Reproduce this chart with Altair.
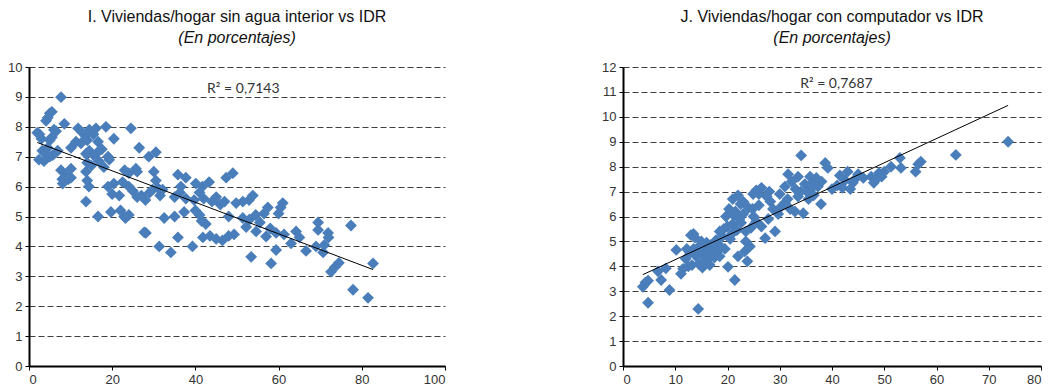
import altair as alt
import pandas as pd

# Panel I: share of dwellings/households without indoor water vs IDR
idr_agua = [
    2.0, 2.5, 3.0, 2.4, 3.6, 3.2, 4.0, 4.5, 5.0, 5.7, 6.9, 4.1, 4.5, 5.0, 5.5,
    5.0, 5.5, 6.0, 6.5, 7.7, 8.5, 7.7, 8.9, 8.1, 10.1, 10.1, 9.5, 10.1, 8.0,
    11.8, 12.9, 13.5, 14.5, 15.5, 16.1, 18.5, 11.3, 12.5, 14.0, 16.6, 13.7, 14.5,
    15.5, 16.5, 17.5, 20.4, 19.0, 14.0, 15.0, 16.8, 18.0, 19.3, 13.7, 14.0, 14.4,
    13.7, 16.6, 19.0, 20.0, 20.4, 21.7, 22.5, 19.7,
    24.5, 26.5, 28.8, 30.5, 23.0, 24.0, 25.7, 26.0, 24.0, 25.0, 26.0, 27.0, 28.0,
    29.0, 29.7, 30.5, 31.0, 32.1, 30.0, 31.5, 22.9, 23.2, 24.0, 22.0, 28.1, 27.7,
    31.3, 32.5, 34.1,
    35.0, 37.3, 35.8, 39.3, 35.8, 37.7, 36.3, 37.7, 35.0, 36.5, 40.1, 41.7, 43.3,
    39.7, 41.0, 42.0, 40.0, 41.0, 41.5, 42.5, 41.8, 43.5, 45.0, 44.0, 45.0, 46.0,
    47.0,
    47.4, 49.0, 48.0, 46.5, 48.0, 49.3, 49.8, 51.4, 52.9, 53.8, 51.4, 53.0, 54.5,
    56.5, 57.4, 60.0, 60.5, 61.0, 52.2, 54.6, 55.5, 57.0, 58.0, 59.4, 53.4, 58.2,
    59.4, 61.3, 63.0,
    64.2, 65.0, 66.6, 69.5, 69.5, 69.0, 70.7, 71.9, 72.0, 71.0, 72.6, 73.5, 74.5,
    77.4, 77.9, 81.5, 82.7,
]
agua = [
    7.8, 7.75, 7.6, 6.9, 6.85, 7.2, 7.1, 7.3, 7.0, 7.05, 7.2, 8.2, 8.3, 8.45, 8.5,
    7.55, 7.65, 7.9, 7.85, 8.99, 8.1, 6.55, 6.4, 6.1, 6.6, 6.3, 6.25, 7.3, 6.25,
    7.95, 7.8, 7.7, 7.9, 7.75, 7.95, 8.0, 7.5, 7.45, 7.55, 7.5, 7.1, 7.2,
    7.05, 7.15, 7.25, 7.6, 7.0, 6.8, 6.7, 6.85, 6.65, 6.9, 6.5, 6.2, 6.0,
    5.5, 5.0, 6.0, 5.75, 6.1, 5.7, 6.15, 5.15,
    7.95, 7.3, 7.0, 7.15, 6.55, 6.45, 6.6, 6.5, 6.0, 5.85, 5.65, 5.7, 5.55,
    5.8, 5.9, 6.2, 5.95, 5.9, 6.5, 5.7, 5.0, 4.95, 5.05, 5.2, 4.45, 4.47,
    4.0, 4.95, 3.8,
    5.0, 5.15, 4.3, 4.0, 6.4, 6.3, 5.8, 5.6, 5.65, 6.0, 6.1, 6.0, 6.15,
    5.55, 5.8, 5.6, 5.2, 5.05, 4.85, 4.75, 4.3, 4.35, 4.25, 5.5, 5.65, 5.4,
    5.5,
    6.3, 6.45, 5.0, 4.2, 4.35, 4.4, 5.45, 5.5, 5.55, 5.7, 4.95, 4.9, 5.05,
    5.1, 5.3, 5.1, 5.3, 5.45, 4.65, 4.5, 4.8, 4.33, 4.6, 4.45, 3.65, 3.43,
    3.88, 4.4, 4.1,
    4.5, 4.3, 3.85, 4.8, 4.55, 4.0, 3.8, 4.45, 4.3, 4.05, 3.15, 3.3, 3.45,
    4.7, 2.55, 2.28, 3.43,
]

# Panel J: share of dwellings/households with a computer vs IDR
idr_comp = [
    3.8, 4.3, 4.8, 4.8, 6.7, 7.3, 8.2, 8.9, 10.2, 11.1, 11.5, 12.0, 12.5, 12.8,
    13.0, 13.5, 13.8, 13.5, 14.0, 14.4, 14.5, 14.8, 15.0, 15.2, 15.5, 15.8, 16.0,
    16.3, 16.6, 17.0, 17.3, 17.5, 18.0, 18.2, 18.5, 18.8, 19.0, 19.3, 19.7, 20.1,
    20.0, 20.3, 20.5, 21.0, 21.0, 21.4, 21.5, 21.8, 22.0, 22.0, 22.3, 22.6, 23.0,
    23.0, 23.3, 23.5, 23.8, 24.0, 24.3, 24.5, 24.9, 25.0, 25.5, 25.5, 26.0, 26.5,
    26.5, 27.2, 27.5, 27.8, 28.0, 28.7, 29.1, 29.7, 30.3, 31.0, 31.0, 31.6, 32.0,
    32.3, 32.9, 33.0, 33.5, 33.5, 34.1, 34.5, 34.8, 35.2, 35.5, 35.8, 36.3, 36.5,
    37.0, 37.3, 37.9, 38.0, 38.7, 39.2, 40.0, 41.0, 41.5, 42.0, 42.5, 43.0, 43.5,
    44.0, 44.4, 45.0, 46.0, 47.5, 48.0, 48.5, 49.0, 49.5, 50.0, 51.3, 53.0, 53.2,
    56.0, 56.5, 57.0, 63.7, 73.7,
    12.2, 13.2, 14.2, 15.0, 15.6, 16.8, 17.8, 18.5, 19.5, 20.8, 21.2, 22.5, 23.5,
    24.8, 26.0, 28.2, 30.0, 31.5, 34.0, 36.0,
]
comp = [
    3.18, 3.35, 3.42, 2.54, 3.8, 3.45, 3.92, 3.05, 4.66, 3.7, 3.9, 4.3, 4.0, 4.55,
    5.25, 5.3, 5.15, 4.7, 4.4, 2.29, 4.1, 4.85, 4.5, 3.95, 4.2, 4.65, 4.95,
    4.3, 4.05, 4.55, 4.8, 4.35, 4.6, 4.9, 5.4, 4.75, 5.2, 5.5, 6.0, 3.98,
    5.6, 6.3, 5.1, 6.7, 5.7, 3.45, 6.2, 5.45, 6.85, 4.4, 5.9, 5.75, 6.6,
    6.1, 4.6, 5.0, 4.2, 6.35, 4.8, 5.55, 6.9, 6.0, 7.05, 5.8, 6.45, 7.15,
    5.6, 5.13, 6.8, 5.9, 7.0, 6.3, 5.4, 6.1, 6.4, 6.55, 7.2, 7.7, 6.3,
    7.4, 6.2, 7.1, 7.6, 6.8, 8.45, 6.13, 7.3, 7.0, 6.7, 7.6, 7.35, 6.85,
    7.55, 7.2, 6.5, 7.4, 8.15, 7.95, 7.1, 7.25, 7.65, 7.15, 7.45, 7.8, 7.1,
    7.35, 7.5, 7.7, 7.55, 7.6, 7.35, 7.5, 7.75, 7.6, 7.8, 8.0, 8.35, 7.95,
    7.8, 8.1, 8.2, 8.47, 9.0,
    4.7, 4.05, 4.6, 5.0, 4.4, 4.85, 5.05, 4.4, 4.7, 5.3, 6.05, 6.5, 5.4,
    6.3, 6.9, 6.6, 6.9, 6.7, 7.0, 7.1,
]

r2_labels = ["R² = 0,7143", "R² = 0,7687"]

BLUE = "#4A7EBB"
TITLE_FONT = "Liberation Sans Narrow, Arial Narrow, Liberation Sans"
AXIS_FONT = "Liberation Sans"


def panel(xs, ys, x_max, x_step, y_max, width, title, r2_text, r2_x, r2_y):
    df = pd.DataFrame({"idr": xs, "val": ys})
    x_enc = alt.X(
        "idr:Q",
        scale=alt.Scale(domain=[0, x_max], nice=False, zero=True),
        axis=alt.Axis(values=list(range(0, x_max + 1, x_step)), grid=False, title=None),
    )
    y_enc = alt.Y(
        "val:Q",
        scale=alt.Scale(domain=[0, y_max], nice=False),
        axis=alt.Axis(values=list(range(0, y_max + 1)), grid=True, title=None,
                      labelOverlap=False),
    )
    points = alt.Chart(df).mark_point(
        shape="diamond", filled=True, size=140, color=BLUE, opacity=1
    ).encode(x=x_enc, y=y_enc)
    # least-squares trend line over the observed IDR range
    trend = alt.Chart(df).transform_regression("idr", "val").mark_line(
        color="black", strokeWidth=1
    ).encode(x=x_enc, y=y_enc)
    label_df = pd.DataFrame({"idr": [r2_x], "val": [r2_y], "t": [r2_text]})
    label = alt.Chart(label_df).mark_text(
        align="left", baseline="middle", font="Lato", fontSize=14, color="#333333"
    ).encode(x=x_enc, y=y_enc, text="t:N")
    return alt.layer(points, trend, label).properties(
        width=width,
        height=299,
        title=alt.TitleParams(
            text=title,
            subtitle="(En porcentajes)",
            anchor="middle",
        ),
    )


left = panel(idr_agua, agua, 100, 20, 10, 416,
             "I. Viviendas/hogar sin agua interior vs IDR", r2_labels[0], 42.8, 9.25)
right = panel(idr_comp, comp, 80, 10, 12, 418,
              "J. Viviendas/hogar con computador vs IDR", r2_labels[1], 33.9, 11.33)

chart = alt.hconcat(left, right, spacing=155).properties(
    padding={"left": 7, "top": 9, "right": 0, "bottom": 0}
).configure_view(stroke=None).configure_axis(
    domainColor="black",
    domainWidth=2,
    tickColor="black",
    tickSize=4,
    tickWidth=1,
    labelFont=AXIS_FONT,
    labelFontSize=13,
    labelColor="#333333",
    labelPadding=3,
    gridColor="#404040",
    gridDash=[6, 3],
    gridWidth=1,
    gridOpacity=1,
).configure_title(
    font=TITLE_FONT,
    fontSize=16,
    fontWeight="normal",
    color="#111111",
    subtitleFont=TITLE_FONT,
    subtitleFontSize=16,
    subtitleFontStyle="italic",
    subtitleColor="#111111",
    subtitlePadding=5,
    offset=15,
)

chart.save("out.html", embed_options={"renderer": "svg", "actions": False})
